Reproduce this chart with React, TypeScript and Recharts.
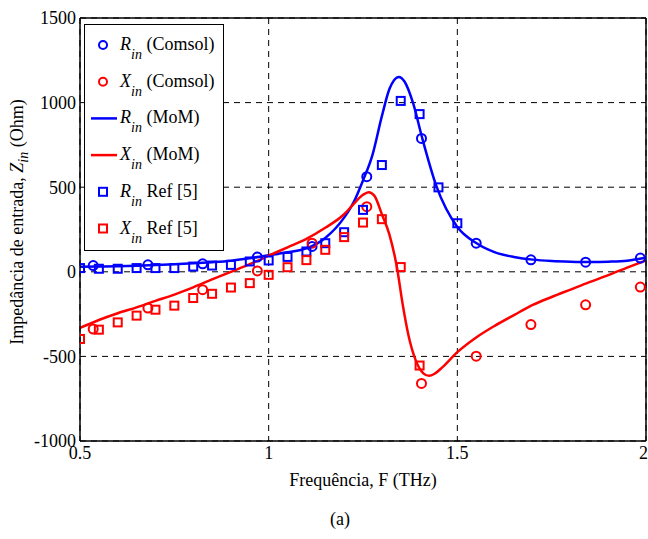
import React from 'react';
import {
  ComposedChart,
  Line,
  Scatter,
  XAxis,
  YAxis,
  CartesianGrid,
  ReferenceLine,
} from 'recharts';

const BLUE = '#0000ff';
const RED = '#ff0000';
const FONT = '"Liberation Serif", "Times New Roman", serif';

// Frequência (THz) / ohms
const comsolF = [0.535, 0.68, 0.825, 0.97, 1.115, 1.26, 1.405, 1.55, 1.695, 1.84, 1.985];
const rComsol = [37, 41, 47, 87, 150, 562, 788, 169, 71, 57, 81];
const xComsol = [-338, -214, -106, 5, 169, 385, -660, -499, -312, -195, -90];

const refF = [0.5, 0.55, 0.6, 0.65, 0.7, 0.75, 0.8, 0.85, 0.9, 0.95, 1.0, 1.05, 1.1, 1.15, 1.2, 1.25, 1.3, 1.35, 1.4, 1.45, 1.5];
const rRef = [22, 18, 18, 22, 22, 22, 31, 37, 41, 61, 67, 88, 120, 169, 234, 366, 631, 1010, 932, 499, 287];
const xRef = [-397, -342, -299, -259, -224, -200, -155, -130, -93, -67, -18, 27, 69, 130, 205, 291, 311, 28, -554];

const rMoMF = [0.5, 0.55, 0.6, 0.65, 0.7, 0.75, 0.8, 0.85, 0.9, 0.95, 1.0, 1.05, 1.1, 1.15, 1.2, 1.225, 1.25, 1.275, 1.3, 1.32, 1.345, 1.36, 1.383, 1.406, 1.445, 1.5, 1.55, 1.6, 1.65, 1.7, 1.75, 1.8, 1.85, 1.9, 1.95, 2.0];
const rMoM = [30, 31, 33, 36, 40, 44, 50, 57, 66, 80, 98, 115, 138, 200, 320, 410, 540, 690, 920, 1080, 1152, 1125, 995, 798, 503, 265, 170, 115, 88, 72, 64, 60, 58, 60, 66, 85];

const xMoMF = [0.5, 0.55, 0.6, 0.65, 0.7, 0.75, 0.8, 0.85, 0.9, 0.95, 1.0, 1.05, 1.1, 1.15, 1.2, 1.225, 1.25, 1.265, 1.28, 1.3, 1.32, 1.34, 1.355, 1.37, 1.39, 1.41, 1.425, 1.44, 1.46, 1.5, 1.55, 1.6, 1.65, 1.7, 1.75, 1.8, 1.85, 1.9, 1.95, 2.0];
const xMoM = [-332, -285, -245, -210, -172, -135, -92, -45, 0, 45, 95, 145, 195, 260, 340, 400, 455, 470, 450, 340, 220, 25, -190, -370, -525, -600, -615, -602, -565, -475, -388, -318, -256, -196, -149, -105, -61, -20, 25, 68];

const xTicks = [0.5, 1, 1.5, 2];
const yTicks = [-1000, -500, 0, 500, 1000, 1500];

const legendItems = [
  { sym: 'circle', color: BLUE, name: 'R', rest: ' (Comsol)' },
  { sym: 'circle', color: RED, name: 'X', rest: ' (Comsol)' },
  { sym: 'line', color: BLUE, name: 'R', rest: ' (MoM)' },
  { sym: 'line', color: RED, name: 'X', rest: ' (MoM)' },
  { sym: 'square', color: BLUE, name: 'R', rest: ' Ref [5]' },
  { sym: 'square', color: RED, name: 'X', rest: ' Ref [5]' },
];

const toPts = (xs: number[], ys: number[]) => ys.map((y, i) => ({ x: xs[i], y }));

const circle = (color: string) => (p: any) => (
  <circle cx={p.cx} cy={p.cy} r={4.5} fill="none" stroke={color} strokeWidth={2} />
);
const square = (color: string) => (p: any) => (
  <rect x={p.cx - 4} y={p.cy - 4} width={8} height={8} fill="none" stroke={color} strokeWidth={2} />
);

function LegendBox() {
  return (
    <svg
      width={140}
      height={227}
      style={{ position: 'absolute', left: 84, top: 24, fontFamily: FONT }}
    >
      <rect x={0.5} y={0.5} width={139} height={226} fill="#fff" stroke="#000" strokeWidth={1} />
      {legendItems.map((it, i) => {
        const cy = 21 + i * 36.7;
        return (
          <g key={i}>
            {it.sym === 'circle' && (
              <circle cx={19} cy={cy} r={4} fill="none" stroke={it.color} strokeWidth={2} />
            )}
            {it.sym === 'square' && (
              <rect x={15} y={cy - 4} width={8} height={8} fill="none" stroke={it.color} strokeWidth={2} />
            )}
            {it.sym === 'line' && (
              <line x1={7} x2={33} y1={cy} y2={cy} stroke={it.color} strokeWidth={2.5} />
            )}
            <text x={36} y={cy + 5} fontSize={18} fill="#000">
              <tspan fontStyle="italic">{it.name}</tspan>
              <tspan fontStyle="italic" fontSize={14} dy={9}>in</tspan>
              <tspan dy={-9}>{it.rest}</tspan>
            </text>
          </g>
        );
      })}
    </svg>
  );
}

const yLabel = () => (
  <text
    x={23}
    y={222}
    transform="rotate(-90 23 222)"
    textAnchor="middle"
    fontSize={18}
    fontFamily={FONT}
    fill="#000"
  >
    <tspan>Impedância de entrada, </tspan>
    <tspan fontStyle="italic">Z</tspan>
    <tspan fontStyle="italic" fontSize={14} dy={5}>in</tspan>
    <tspan dy={-5}> (Ohm)</tspan>
  </text>
);

export default function App() {
  const tick = { fill: '#000', fontSize: 18, fontFamily: FONT };
  return (
    <div style={{ position: 'absolute', left: 0, top: 0, width: 648, height: 539, background: '#fff' }}>
      <ComposedChart width={648} height={539} margin={{ top: 18, right: 2, left: 0, bottom: 38 }}>
        <CartesianGrid stroke="#000" strokeDasharray="6 5" strokeWidth={1} />
        <XAxis
          type="number"
          dataKey="x"
          domain={[0.5, 2]}
          ticks={xTicks}
          allowDataOverflow
          height={60}
          tick={tick}
          tickLine={false}
          axisLine={false}
          tickSize={0}
          tickMargin={5}
          tickFormatter={(v: number) => String(v)}
          label={{ value: 'Frequência, F (THz)', position: 'insideBottom', offset: 15, fill: '#000', fontSize: 18, fontFamily: FONT }}
        />
        <YAxis
          type="number"
          dataKey="y"
          domain={[-1000, 1500]}
          ticks={yTicks}
          allowDataOverflow
          width={80}
          tick={tick}
          tickLine={false}
          axisLine={false}
          tickSize={0}
          tickMargin={4}
          label={yLabel}
        />
        <Scatter data={toPts(comsolF, rComsol)} dataKey="y" shape={circle(BLUE)} isAnimationActive={false} />
        <Scatter data={toPts(comsolF, xComsol)} dataKey="y" shape={circle(RED)} isAnimationActive={false} />
        <Line data={toPts(rMoMF, rMoM)} dataKey="y" type="monotone" stroke={BLUE} strokeWidth={2.5} dot={false} isAnimationActive={false} />
        <Line data={toPts(xMoMF, xMoM)} dataKey="y" type="monotone" stroke={RED} strokeWidth={2.5} dot={false} isAnimationActive={false} />
        <Scatter data={toPts(refF, rRef)} dataKey="y" shape={square(BLUE)} isAnimationActive={false} />
        <Scatter data={toPts(refF, xRef)} dataKey="y" shape={square(RED)} isAnimationActive={false} />
        <ReferenceLine x={0.5} stroke="#000" strokeWidth={1.5} />
        <ReferenceLine x={2} stroke="#000" strokeWidth={1.5} />
        <ReferenceLine y={1500} stroke="#000" strokeWidth={1.5} />
        <ReferenceLine y={-1000} stroke="#000" strokeWidth={1.5} />
      </ComposedChart>
      <LegendBox />
      <div
        style={{ position: 'absolute', left: 320, top: 509, width: 40, textAlign: 'center', fontSize: 18, fontFamily: FONT }}
      >
        (a)
      </div>
    </div>
  );
}
